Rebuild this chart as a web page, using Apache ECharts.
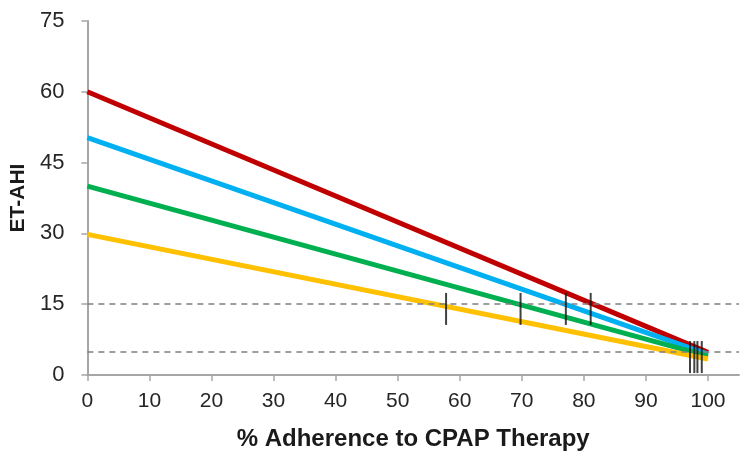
<!DOCTYPE html>
<html><head><meta charset="utf-8">
<script src="https://cdn.jsdelivr.net/npm/echarts@6/dist/echarts.min.js"></script>
<style>html,body{margin:0;padding:0;background:#fff}#c{width:750px;height:458px}</style>
</head><body><div id="c"></div>
<script>
var xTicks = [0,10,20,30,40,50,60,70,80,90,100];
var yTicks = [0,15,30,45,60,75];
var seriesNames = ['Red','Blue','Green','Yellow'];
var lineStart = [[0,60],[0,50.3],[0,40],[0,29.8]];
var lineEnd = [[100,4.8],[100,4.4],[100,4.0],[100,3.4]];
var refLevels = [15, 5];
var markers15 = [[57.8,14],[69.8,14],[77.1,14],[81.1,14]];
var markers5 = [[97.1,3.8],[97.8,3.8],[98.3,3.8],[99.0,3.8]];
var colors = ['#C00000','#00B0F0','#00B050','#FFC000'];

var fam = '"Liberation Sans",Arial,sans-serif';
var series = [];
series.push({
  type:'line', data:[], silent:true,
  markLine:{silent:true, symbol:['none','none'], label:{show:false},
    lineStyle:{color:'#7F7F7F', type:[6,5], width:1.5},
    data: refLevels.map(function(v){return {yAxis:v};})}
});
seriesNames.forEach(function(n,i){
  series.push({name:n, type:'line', data:[lineStart[i], lineEnd[i]], showSymbol:false,
    lineStyle:{color:colors[i], width:5}, z:3});
});
series.push({type:'scatter', data:markers15.concat(markers5), symbol:'rect', symbolSize:[2,32],
  itemStyle:{color:'#111'}, z:5});

var chart = echarts.init(document.getElementById('c'));
chart.setOption({
  animation:false,
  grid:{left:87, right:11, top:21, bottom:83},
  xAxis:{type:'value', min:0, max:105,
    axisLine:{lineStyle:{color:'#A6A6A6', width:2}},
    axisTick:{show:true, length:6, lineStyle:{color:'#A6A6A6', width:1.5}, customValues:xTicks},
    axisLabel:{margin:16, customValues:xTicks, fontFamily:fam, fontSize:21, color:'#262626'},
    splitLine:{show:false},
    name:'% Adherence to CPAP Therapy', nameLocation:'middle', nameGap:52,
    nameTextStyle:{fontFamily:fam, fontSize:24, color:'#1a1a1a', fontWeight:'bold'}
  },
  yAxis:{type:'value', min:0, max:75, interval:15,
    axisLine:{show:true, lineStyle:{color:'#A6A6A6', width:2}},
    axisTick:{show:true, length:6, lineStyle:{color:'#A6A6A6', width:1.5}},
    axisLabel:{margin:23, fontFamily:fam, fontSize:22, color:'#262626'},
    splitLine:{show:false},
    name:'ET-AHI', nameLocation:'middle', nameGap:58,
    nameTextStyle:{fontFamily:fam, fontSize:21, color:'#1a1a1a', fontWeight:'bold'}
  },
  series:series
});
</script></body></html>
